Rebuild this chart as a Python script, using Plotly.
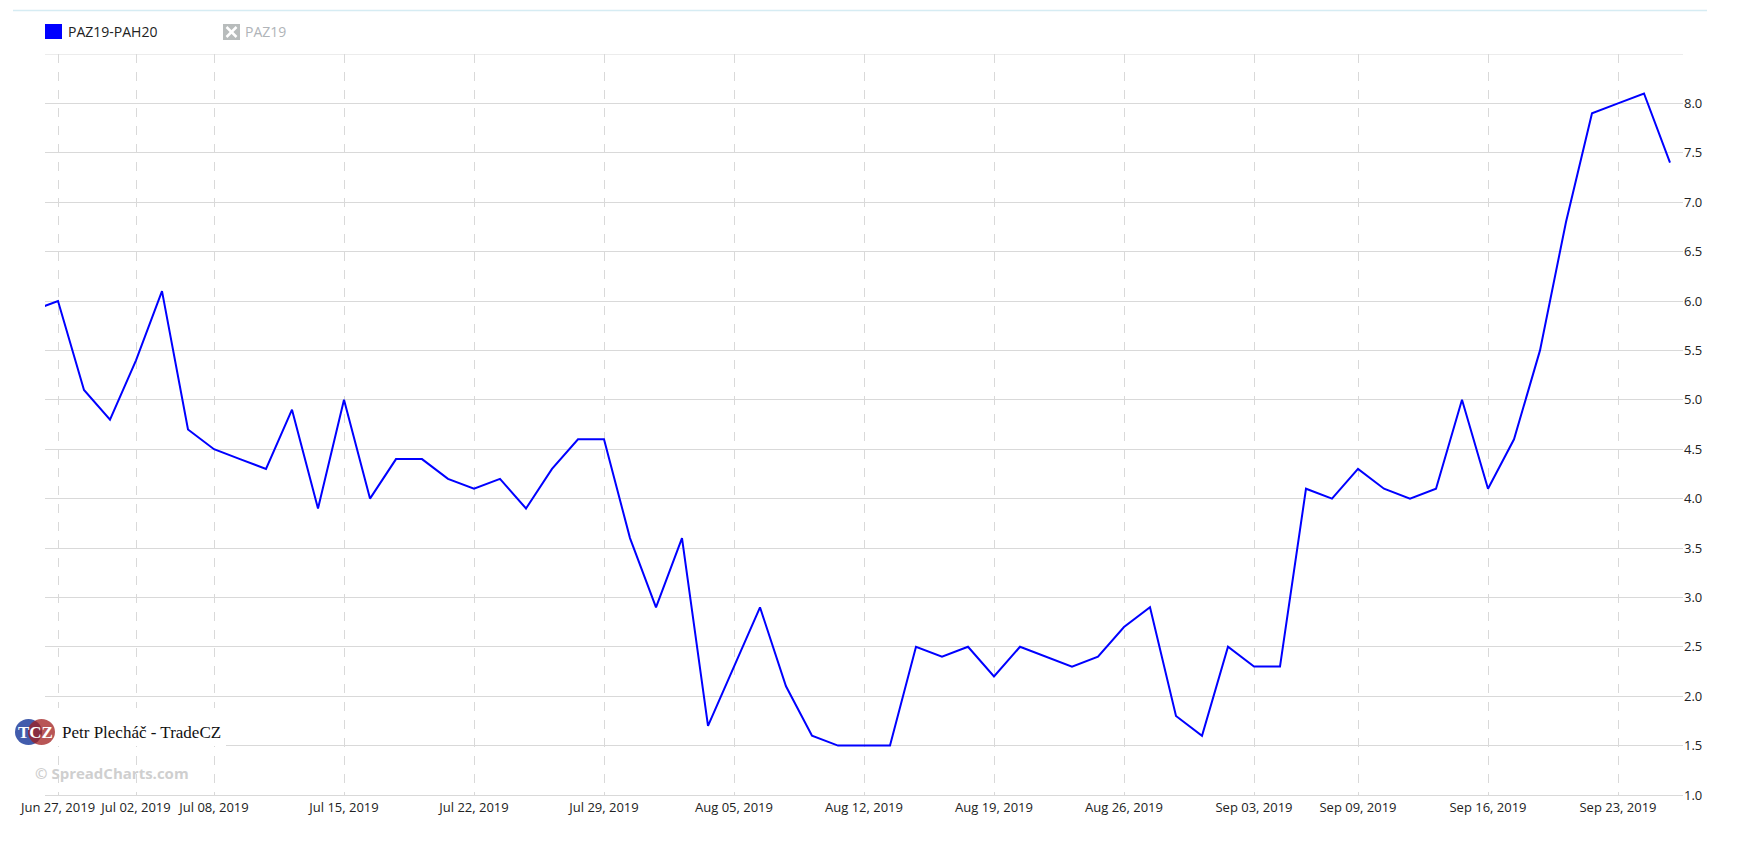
import datetime as dt
import plotly.graph_objects as go

# ---- data ----
dates = [
    "2019-06-26", "2019-06-27", "2019-06-28", "2019-07-01", "2019-07-02", "2019-07-03",
    "2019-07-05", "2019-07-08", "2019-07-09", "2019-07-10", "2019-07-11", "2019-07-12",
    "2019-07-15", "2019-07-16", "2019-07-17", "2019-07-18", "2019-07-19",
    "2019-07-22", "2019-07-23", "2019-07-24", "2019-07-25", "2019-07-26",
    "2019-07-29", "2019-07-30", "2019-07-31", "2019-08-01", "2019-08-02",
    "2019-08-05", "2019-08-06", "2019-08-07", "2019-08-08", "2019-08-09",
    "2019-08-12", "2019-08-13", "2019-08-14", "2019-08-15", "2019-08-16",
    "2019-08-19", "2019-08-20", "2019-08-21", "2019-08-22", "2019-08-23",
    "2019-08-26", "2019-08-27", "2019-08-28", "2019-08-29", "2019-08-30",
    "2019-09-03", "2019-09-04", "2019-09-05", "2019-09-06",
    "2019-09-09", "2019-09-10", "2019-09-11", "2019-09-12", "2019-09-13",
    "2019-09-16", "2019-09-17", "2019-09-18", "2019-09-19", "2019-09-20",
    "2019-09-23", "2019-09-24", "2019-09-25",
]
spread = [
    5.9, 6.0, 5.1, 4.8, 5.4, 6.1,
    4.7, 4.5, 4.4, 4.3, 4.9, 3.9,
    5.0, 4.0, 4.4, 4.4, 4.2,
    4.1, 4.2, 3.9, 4.3, 4.6,
    4.6, 3.6, 2.9, 3.6, 1.7,
    2.3, 2.9, 2.1, 1.6, 1.5,
    1.5, 1.5, 2.5, 2.4, 2.5,
    2.2, 2.5, 2.4, 2.3, 2.4,
    2.7, 2.9, 1.8, 1.6, 2.5,
    2.3, 2.3, 4.1, 4.0,
    4.3, 4.1, 4.0, 4.1, 5.0,
    4.1, 4.6, 5.5, 6.8, 7.9,
    8.0, 8.1, 7.4,
]
tick_dates = [
    "2019-06-27", "2019-07-02", "2019-07-08", "2019-07-15", "2019-07-22", "2019-07-29",
    "2019-08-05", "2019-08-12", "2019-08-19", "2019-08-26", "2019-09-03", "2019-09-09",
    "2019-09-16", "2019-09-23",
]
y_ticks = [1.0, 1.5, 2.0, 2.5, 3.0, 3.5, 4.0, 4.5, 5.0, 5.5, 6.0, 6.5, 7.0, 7.5, 8.0]
series_name = "PAZ19-PAH20"
hidden_name = "PAZ19"

tick_text = [dt.date.fromisoformat(d).strftime("%b %d, %Y") for d in tick_dates]

# page has an 8px body margin; work in page pixel coordinates and offset
OFF = 8
W, H = 1738 - 2 * OFF, 848 - 2 * OFF
L, R, T, B = 45, 1683, 54, 795  # plot area in page pixels

def px(x):
    return (x - L) / (R - L)

def py(y):
    return (B - y) / (B - T)

fig = go.Figure()
fig.add_trace(go.Scatter(
    x=dates, y=spread, mode="lines", name=series_name,
    line=dict(color="#0000ff", width=2), showlegend=False,
    hoverinfo="x+y",
))

shapes = []
annotations = []

# top light-blue line
shapes.append(dict(type="line", xref="paper", yref="paper",
                   x0=px(13), x1=px(1707), y0=py(10.5), y1=py(10.5),
                   line=dict(color="#d6ecf3", width=1.5)))

# legend
shapes.append(dict(type="rect", xref="paper", yref="paper",
                   x0=px(45), x1=px(62), y0=py(39), y1=py(24),
                   fillcolor="#0000ff", line=dict(width=0)))
annotations.append(dict(xref="paper", yref="paper", x=px(66), y=py(31.5),
                        text=series_name, showarrow=False, xanchor="left", yanchor="middle",
                        font=dict(family="Open Sans", size=14, color="#222")))
shapes.append(dict(type="rect", xref="paper", yref="paper",
                   x0=px(223), x1=px(240), y0=py(40), y1=py(24),
                   fillcolor="#b8bcbc", line=dict(width=0)))
shapes.append(dict(type="line", xref="paper", yref="paper",
                   x0=px(226.5), x1=px(236.5), y0=py(27), y1=py(37),
                   line=dict(color="white", width=2.5)))
shapes.append(dict(type="line", xref="paper", yref="paper",
                   x0=px(226.5), x1=px(236.5), y0=py(37), y1=py(27),
                   line=dict(color="white", width=2.5)))
annotations.append(dict(xref="paper", yref="paper", x=px(243), y=py(31.5),
                        text=hidden_name, showarrow=False, xanchor="left", yanchor="middle",
                        font=dict(family="Open Sans", size=14, color="#b0b4b8")))

# watermark box + logo
shapes.append(dict(type="rect", xref="paper", yref="paper", layer="above",
                   x0=px(12), x1=px(226), y0=py(746), y1=py(708),
                   fillcolor="white", line=dict(width=0)))
shapes.append(dict(type="circle", xref="paper", yref="paper", layer="above",
                   x0=px(15), x1=px(42), y0=py(745), y1=py(719),
                   fillcolor="rgba(40,70,160,0.88)", line=dict(width=0)))
shapes.append(dict(type="circle", xref="paper", yref="paper", layer="above",
                   x0=px(28), x1=px(55), y0=py(745), y1=py(719),
                   fillcolor="rgba(160,30,30,0.75)", line=dict(width=0)))
annotations.append(dict(xref="paper", yref="paper", x=px(35), y=py(732),
                        text="<b>TCZ</b>", showarrow=False, xanchor="center", yanchor="middle",
                        font=dict(family="Liberation Serif", size=17, color="white")))
annotations.append(dict(xref="paper", yref="paper", x=px(60), y=py(732),
                        text="Petr Plecháč - TradeCZ", showarrow=False, xanchor="left", yanchor="middle",
                        font=dict(family="Liberation Serif", size=17, color="#111")))
annotations.append(dict(xref="paper", yref="paper", x=px(33), y=py(773),
                        text="<b>© SpreadCharts.com</b>", showarrow=False, xanchor="left", yanchor="middle",
                        font=dict(family="Open Sans", size=15, color="#cfcfcf")))

fig.update_layout(
    width=W, height=H,
    margin=dict(l=L - OFF, r=(W + OFF) - R, t=T - OFF, b=(H + OFF) - B, pad=0),
    paper_bgcolor="white", plot_bgcolor="white",
    font=dict(family="Open Sans", size=13, color="#333"),
    shapes=shapes, annotations=annotations,
    xaxis=dict(
        type="category", range=[0.5, len(dates) - 0.5],
        tickmode="array", tickvals=tick_dates, ticktext=tick_text,
        showgrid=True, gridcolor="#d9d9d9", griddash="dash", gridwidth=1,
        showline=True, linecolor="#d9d9d9", linewidth=1,
        ticks="", tickfont=dict(family="Open Sans", size=13, color="#222"),
        zeroline=False,
    ),
    yaxis=dict(
        side="right", range=[1.0, 8.5],
        tickmode="array", tickvals=y_ticks, ticktext=[f"{v:.1f}" for v in y_ticks],
        showgrid=True, gridcolor="#d9d9d9", gridwidth=1,
        showline=False, zeroline=False, ticks="",
        tickfont=dict(family="Open Sans", size=13, color="#222"),
    ),
)
# top border line at 8.5
fig.add_shape(type="line", xref="paper", yref="y", x0=0, x1=1, y0=8.5, y1=8.5,
              line=dict(color="#d9d9d9", width=1))

fig.write_html("out.html")
